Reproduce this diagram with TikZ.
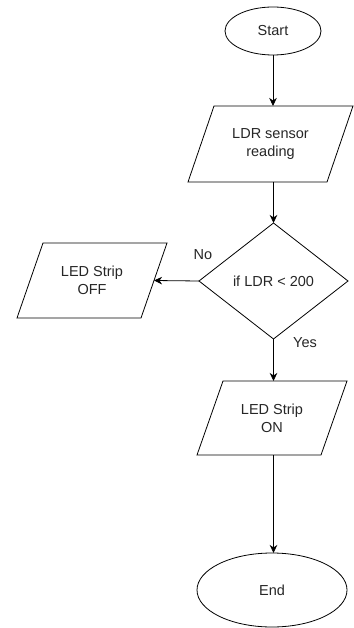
\documentclass[tikz,border=0pt]{standalone}
\usepackage{fontspec}
\setmainfont{Liberation Sans}
\usetikzlibrary{shapes.geometric,arrows.meta}
\begin{document}
\begin{tikzpicture}[x=1pt,y=-1pt,line width=0.8pt,
  every node/.style={font=\fontsize{14.5}{18}\selectfont, inner sep=0pt, outer sep=0pt, text=black!85},
  term/.style={draw, ellipse, minimum width=96pt, minimum height=48pt},
  io/.style={rectangle, minimum width=124pt, minimum height=75pt, align=center},
  decision/.style={draw, diamond, minimum width=149pt, minimum height=116pt},
  flow/.style={-{Stealth[length=8pt,width=7.5pt,inset=2.5pt]}}]
\useasboundingbox (0,0) rectangle (353,628);
\node[term] (start) at (273,31) {Start};
\node[io, minimum width=139pt, minimum height=76pt] (ldr) at (270.5,144) {LDR sensor\\reading};
\node[decision] (dec) at (273.5,281) {if LDR < 200};
\node[io] (off) at (92,280.5) {LED Strip\\OFF};
\node[io, minimum height=74pt] (on) at (272,418) {LED Strip\\ON};
\node[term, minimum width=150pt, minimum height=74pt] (end) at (272,590) {End};
\node (no) at (203,255) {No};
\node (yes) at (305,343) {Yes};
\foreach \n in {ldr,off,on}
  \draw ([xshift=13pt]\n.north west) -- ([xshift=13pt]\n.north east)
        -- ([xshift=-13pt]\n.south east) -- ([xshift=-13pt]\n.south west) -- cycle;
\draw[flow] (start.south) -- (start.south |- ldr.north);
\draw[flow] (dec.north |- ldr.south) -- (dec.north);
\draw[flow] (dec.west) -- (off.east);
\draw[flow] (dec.south) -- (dec.south |- on.north);
\draw[flow] (dec.south |- on.south) -- (dec.south |- end.north);
\end{tikzpicture}
\end{document}
